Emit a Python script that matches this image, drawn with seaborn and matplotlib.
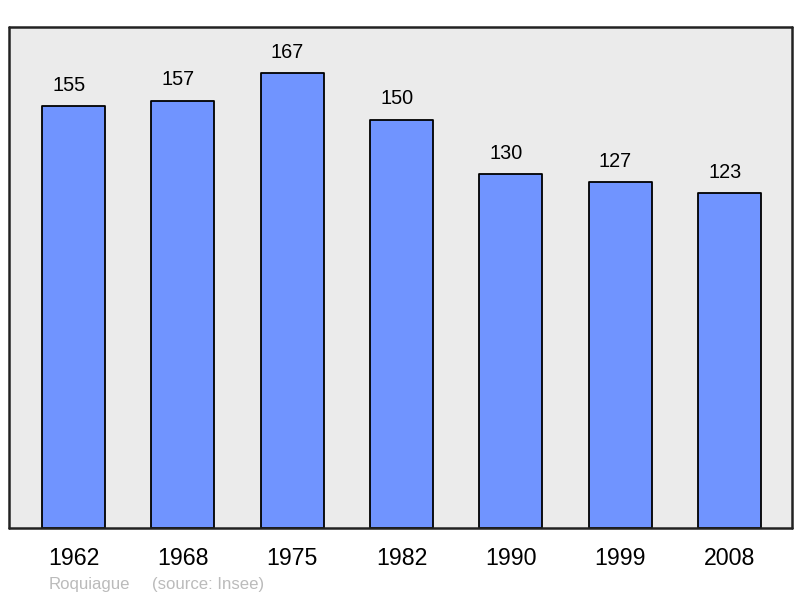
import matplotlib
matplotlib.use("Agg")
import matplotlib.pyplot as plt
import seaborn as sns
import pandas as pd

years = ["1962", "1968", "1975", "1982", "1990", "1999", "2008"]
population = [155, 157, 167, 150, 130, 127, 123]
commune = "Roquiague"
source = "(source: Insee)"

sns.set_style("white")
plt.rcParams["font.family"] = ["Liberation Sans", "DejaVu Sans"]

df = pd.DataFrame({"year": years, "pop": population})

fig = plt.figure(figsize=(8, 5.98), dpi=100)
ax = fig.add_axes([9 / 800, 1 - 528 / 598, 783 / 800, 501 / 598])
ax.set_facecolor("#EBEBEB")

sns.barplot(data=df, x="year", y="pop", color="#7094FF", saturation=1,
            edgecolor="black", linewidth=1.3, width=0.576, ax=ax)
for p in ax.patches:
    p.set_joinstyle("round")

for i, v in enumerate(population):
    ax.text(i - 0.045, v + 7.6, str(v), ha="center", va="center", fontsize=14.3, color="black")

ax.set_xlim(-0.59, 6.57)
ax.set_ylim(0, 184)
ax.set_yticks([])
ax.set_xlabel("")
ax.set_ylabel("")
ax.tick_params(axis="x", length=0, labelsize=16.7, pad=14, colors="black")
for s in ax.spines.values():
    s.set_visible(True)
    s.set_color("#222222")
    s.set_linewidth(1.8)
    s.set_capstyle("round")
    s.set_joinstyle("round")

fig.text(49 / 800, 1 - 584 / 598, commune, fontsize=12.1, color="#BBBBBB",
         ha="left", va="center")
fig.text(152 / 800, 1 - 584 / 598, source, fontsize=12.1, color="#BBBBBB",
         ha="left", va="center")

fig.savefig("out.png", dpi=100, facecolor="white")
